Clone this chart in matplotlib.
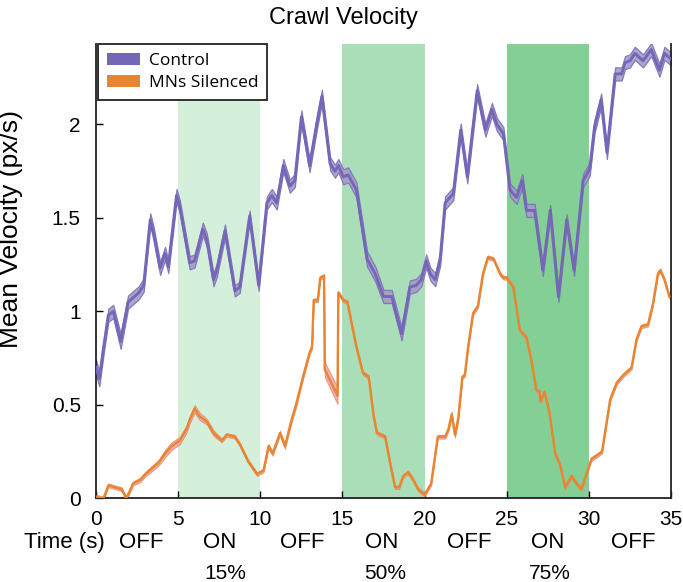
import numpy as np
import matplotlib.pyplot as plt
from matplotlib.patches import Patch

# Mean crawl velocity over the trial, control vs. motor neurons silenced
ctrl_t = [0.0, 0.2, 0.45, 0.75, 1.05, 1.5, 1.95, 2.6, 2.9, 3.3, 3.5, 3.9, 4.2, 4.4,
          4.9, 5.1, 5.7, 6.0, 6.5, 6.75, 7.15, 7.35, 7.85, 8.45, 8.75, 9.35, 9.9,
          10.4, 10.7, 11.0, 11.4, 11.8, 12.1, 12.5, 13.0, 13.45, 13.75, 14.25,
          14.55, 14.75, 15.05, 15.35, 15.85, 16.5, 17.0, 17.5, 18.0, 18.6, 19.1,
          19.5, 19.8, 20.1, 20.35, 20.65, 20.95, 21.25, 21.75, 22.2, 22.6, 23.2,
          23.7, 24.1, 24.4, 24.8, 25.2, 25.6, 25.95, 26.2, 26.7, 27.2, 27.65,
          28.15, 28.65, 29.1, 29.65, 30.05, 30.35, 30.75, 31.1, 31.6, 32.0, 32.2,
          32.5, 32.8, 33.3, 33.8, 34.3, 34.6, 35.0]
ctrl_v = [0.70, 0.64, 0.80, 0.98, 1.00, 0.84, 1.05, 1.10, 1.14, 1.49, 1.42, 1.23,
          1.31, 1.24, 1.62, 1.56, 1.26, 1.27, 1.44, 1.38, 1.17, 1.22, 1.43, 1.11,
          1.13, 1.51, 1.14, 1.58, 1.62, 1.58, 1.78, 1.67, 1.70, 2.04, 1.78, 2.01,
          2.15, 1.79, 1.75, 1.78, 1.72, 1.73, 1.65, 1.28, 1.20, 1.08, 1.08, 0.88,
          1.13, 1.14, 1.17, 1.27, 1.20, 1.17, 1.28, 1.58, 1.63, 1.97, 1.72, 2.18,
          1.97, 2.08, 2.00, 1.95, 1.65, 1.61, 1.70, 1.54, 1.54, 1.22, 1.54, 1.08,
          1.49, 1.22, 1.70, 1.76, 1.99, 2.13, 1.85, 2.27, 2.27, 2.33, 2.34, 2.38,
          2.34, 2.40, 2.29, 2.38, 2.35]
ctrl_sem = [0.04, 0.04, 0.035, 0.035, 0.035, 0.04, 0.035, 0.035, 0.035, 0.035,
            0.035, 0.035, 0.035, 0.035, 0.035, 0.035, 0.035, 0.035, 0.035, 0.035,
            0.035, 0.035, 0.035, 0.03, 0.03, 0.03, 0.03, 0.035, 0.035, 0.035, 0.035,
            0.035, 0.035, 0.035, 0.035, 0.035, 0.035, 0.035, 0.035, 0.035, 0.04,
            0.04, 0.04, 0.04, 0.04, 0.035, 0.035, 0.035, 0.035, 0.035, 0.035, 0.035,
            0.035, 0.035, 0.035, 0.035, 0.035, 0.035, 0.035, 0.035, 0.035, 0.035,
            0.035, 0.035, 0.035, 0.035, 0.035, 0.035, 0.035, 0.03, 0.03, 0.03, 0.03,
            0.03, 0.035, 0.035, 0.035, 0.035, 0.035, 0.035, 0.035, 0.035, 0.035,
            0.035, 0.035, 0.035, 0.035, 0.035, 0.035]

mn_t = [0.0, 0.45, 0.75, 1.15, 1.55, 1.85, 2.25, 2.7, 3.0, 3.4, 3.8, 4.2, 4.6, 5.1,
        5.5, 5.7, 6.0, 6.3, 6.75, 7.15, 7.65, 7.95, 8.45, 8.75, 9.25, 9.8, 10.2,
        10.5, 10.75, 11.2, 11.5, 11.9, 12.2, 12.6, 13.0, 13.15, 13.25, 13.5, 13.65,
        13.88, 13.92, 14.7, 14.75, 15.05, 15.3, 15.55, 15.85, 16.25, 16.6, 16.9,
        17.1, 17.6, 17.9, 18.2, 18.45, 18.7, 19.0, 19.3, 19.6, 20.0, 20.4, 20.8,
        21.25, 21.45, 21.65, 21.85, 22.05, 22.3, 22.45, 22.65, 22.95, 23.25, 23.55,
        23.85, 24.2, 24.6, 24.8, 25.0, 25.4, 25.8, 26.2, 26.5, 26.8, 27.0, 27.05,
        27.3, 27.6, 27.95, 28.25, 28.55, 28.95, 29.25, 29.55, 29.85, 30.15, 30.8,
        31.3, 31.7, 32.1, 32.6, 32.9, 33.2, 33.6, 33.9, 34.2, 34.35, 34.6, 34.9]
mn_v = [0.01, 0.00, 0.07, 0.06, 0.05, 0.00, 0.08, 0.10, 0.13, 0.16, 0.19, 0.24,
        0.28, 0.31, 0.37, 0.42, 0.48, 0.44, 0.41, 0.35, 0.31, 0.34, 0.33, 0.29,
        0.20, 0.13, 0.15, 0.28, 0.24, 0.35, 0.28, 0.42, 0.51, 0.65, 0.78, 0.81,
        1.06, 1.06, 1.18, 1.19, 0.69, 0.55, 1.10, 1.06, 1.05, 0.94, 0.81, 0.67,
        0.65, 0.44, 0.35, 0.33, 0.19, 0.06, 0.06, 0.12, 0.14, 0.10, 0.05, 0.02,
        0.08, 0.33, 0.33, 0.37, 0.45, 0.34, 0.43, 0.65, 0.66, 0.81, 0.99, 1.03,
        1.20, 1.29, 1.28, 1.20, 1.18, 1.18, 1.13, 0.90, 0.86, 0.74, 0.58, 0.57,
        0.52, 0.57, 0.46, 0.24, 0.18, 0.06, 0.12, 0.08, 0.05, 0.13, 0.21, 0.25,
        0.53, 0.62, 0.66, 0.70, 0.85, 0.92, 0.93, 1.04, 1.20, 1.22, 1.17, 1.08]
mn_sem = [0.01, 0.01, 0.01, 0.01, 0.01, 0.01, 0.01, 0.012, 0.012, 0.015, 0.015,
          0.02, 0.02, 0.02, 0.02, 0.02, 0.02, 0.02, 0.015, 0.015, 0.01, 0.01, 0.01,
          0.01, 0.01, 0.01, 0.01, 0.012, 0.012, 0.012, 0.015, 0.015, 0.015, 0.012,
          0.012, 0.01, 0.01, 0.01, 0.01, 0.01, 0.04, 0.045, 0.01, 0.01, 0.01, 0.01,
          0.01, 0.01, 0.01, 0.01, 0.01, 0.01, 0.01, 0.01, 0.01, 0.01, 0.01, 0.01,
          0.01, 0.01, 0.01, 0.01, 0.01, 0.01, 0.015, 0.015, 0.015, 0.01, 0.01, 0.01,
          0.01, 0.01, 0.01, 0.01, 0.01, 0.01, 0.01, 0.01, 0.01, 0.01, 0.01, 0.01,
          0.01, 0.01, 0.01, 0.01, 0.01, 0.01, 0.01, 0.01, 0.01, 0.01, 0.01, 0.01,
          0.01, 0.01, 0.01, 0.01, 0.01, 0.01, 0.01, 0.01, 0.01, 0.01, 0.01, 0.01,
          0.01, 0.01]

# light-on epochs and intensity
on_start = [5, 15, 25]
on_end = [10, 20, 30]
on_pct = ['15%', '50%', '75%']
on_color = ['#d4efda', '#aadeb8', '#84cf95']

epoch_pos = [2.78, 7.5, 12.55, 17.4, 22.7, 27.5, 32.7]
epoch_lbl = ['OFF', 'ON', 'OFF', 'ON', 'OFF', 'ON', 'OFF']
pct_pos = [7.9, 17.6, 27.65]

ctrl_col = '#7566b8'
mn_col = '#ea842f'

plt.rcParams['font.family'] = ['Liberation Sans', 'DejaVu Sans']

fig = plt.figure(figsize=(6.83, 5.82), dpi=100)
ax = fig.add_axes([0.1406, 0.1435, 0.8418, 0.7809])

for s, e, c in zip(on_start, on_end, on_color):
    ax.axvspan(s, e, color=c, lw=0, zorder=0)

ct = np.array(ctrl_t); cv = np.array(ctrl_v); cs = np.array(ctrl_sem)
mt = np.array(mn_t); mv = np.array(mn_v); ms = np.array(mn_sem)

ax.fill_between(ct, cv - cs, cv + cs, facecolor='#a39cc6', edgecolor='#7d70b8',
                lw=0.9, alpha=0.9, zorder=2)
ax.plot(ct, cv, color=ctrl_col, lw=2.1, zorder=3)
ax.fill_between(mt, mv - ms, mv + ms, facecolor='#eba5b8', edgecolor='#e58a5a',
                lw=0.6, alpha=0.9, zorder=2)
ax.plot(mt, mv, color=mn_col, lw=1.7, zorder=3)

ax.set_xlim(0, 35)
ax.set_ylim(0, 2.43)
ax.set_xticks(range(0, 36, 5))
ax.set_yticks([0, 0.5, 1, 1.5, 2])
ax.set_yticklabels(['0', '0.5', '1', '1.5', '2'])
ax.tick_params(direction='in', length=5, width=1, labelsize=15)
ax.tick_params(axis='x', pad=8)
ax.tick_params(axis='y', pad=11)
ax.spines['top'].set_visible(False)
for sp in ['left', 'bottom', 'right']:
    ax.spines[sp].set_linewidth(1.3)
    ax.spines[sp].set_color('#222222')

ax.text(0.431, 1.057, 'Crawl Velocity', transform=ax.transAxes, ha='center',
        va='center', fontsize=17)
ax.set_ylabel('Mean Velocity (px/s)', fontsize=19)
ax.yaxis.set_label_coords(-0.127, 0.593)

# epoch labels under the time axis
ax.text(-0.0556, -0.096, 'Time (s)', transform=ax.transAxes, ha='center',
        va='center', fontsize=16)
for x, t in zip(epoch_pos, epoch_lbl):
    ax.text(x, -0.096, t, transform=ax.get_xaxis_transform(), ha='center',
            va='center', fontsize=16)
for x, p in zip(pct_pos, on_pct):
    ax.text(x, -0.166, p, transform=ax.get_xaxis_transform(), ha='center',
            va='center', fontsize=15)

handles = [Patch(facecolor=ctrl_col, edgecolor='none', label='Control'),
           Patch(facecolor=mn_col, edgecolor='none', label='MNs Silenced')]
leg = ax.legend(handles=handles, loc='upper left', bbox_to_anchor=(0.004, 1.0),
                fancybox=False, edgecolor='#222222', framealpha=1,
                prop={'family': ['Open Sans', 'DejaVu Sans'], 'size': 12.5},
                handlelength=1.9, handleheight=0.7, borderaxespad=0.0,
                labelspacing=0.35, handletextpad=0.5, borderpad=0.5)
leg.get_frame().set_linewidth(1.3)

fig.savefig('out.png', dpi=100)
